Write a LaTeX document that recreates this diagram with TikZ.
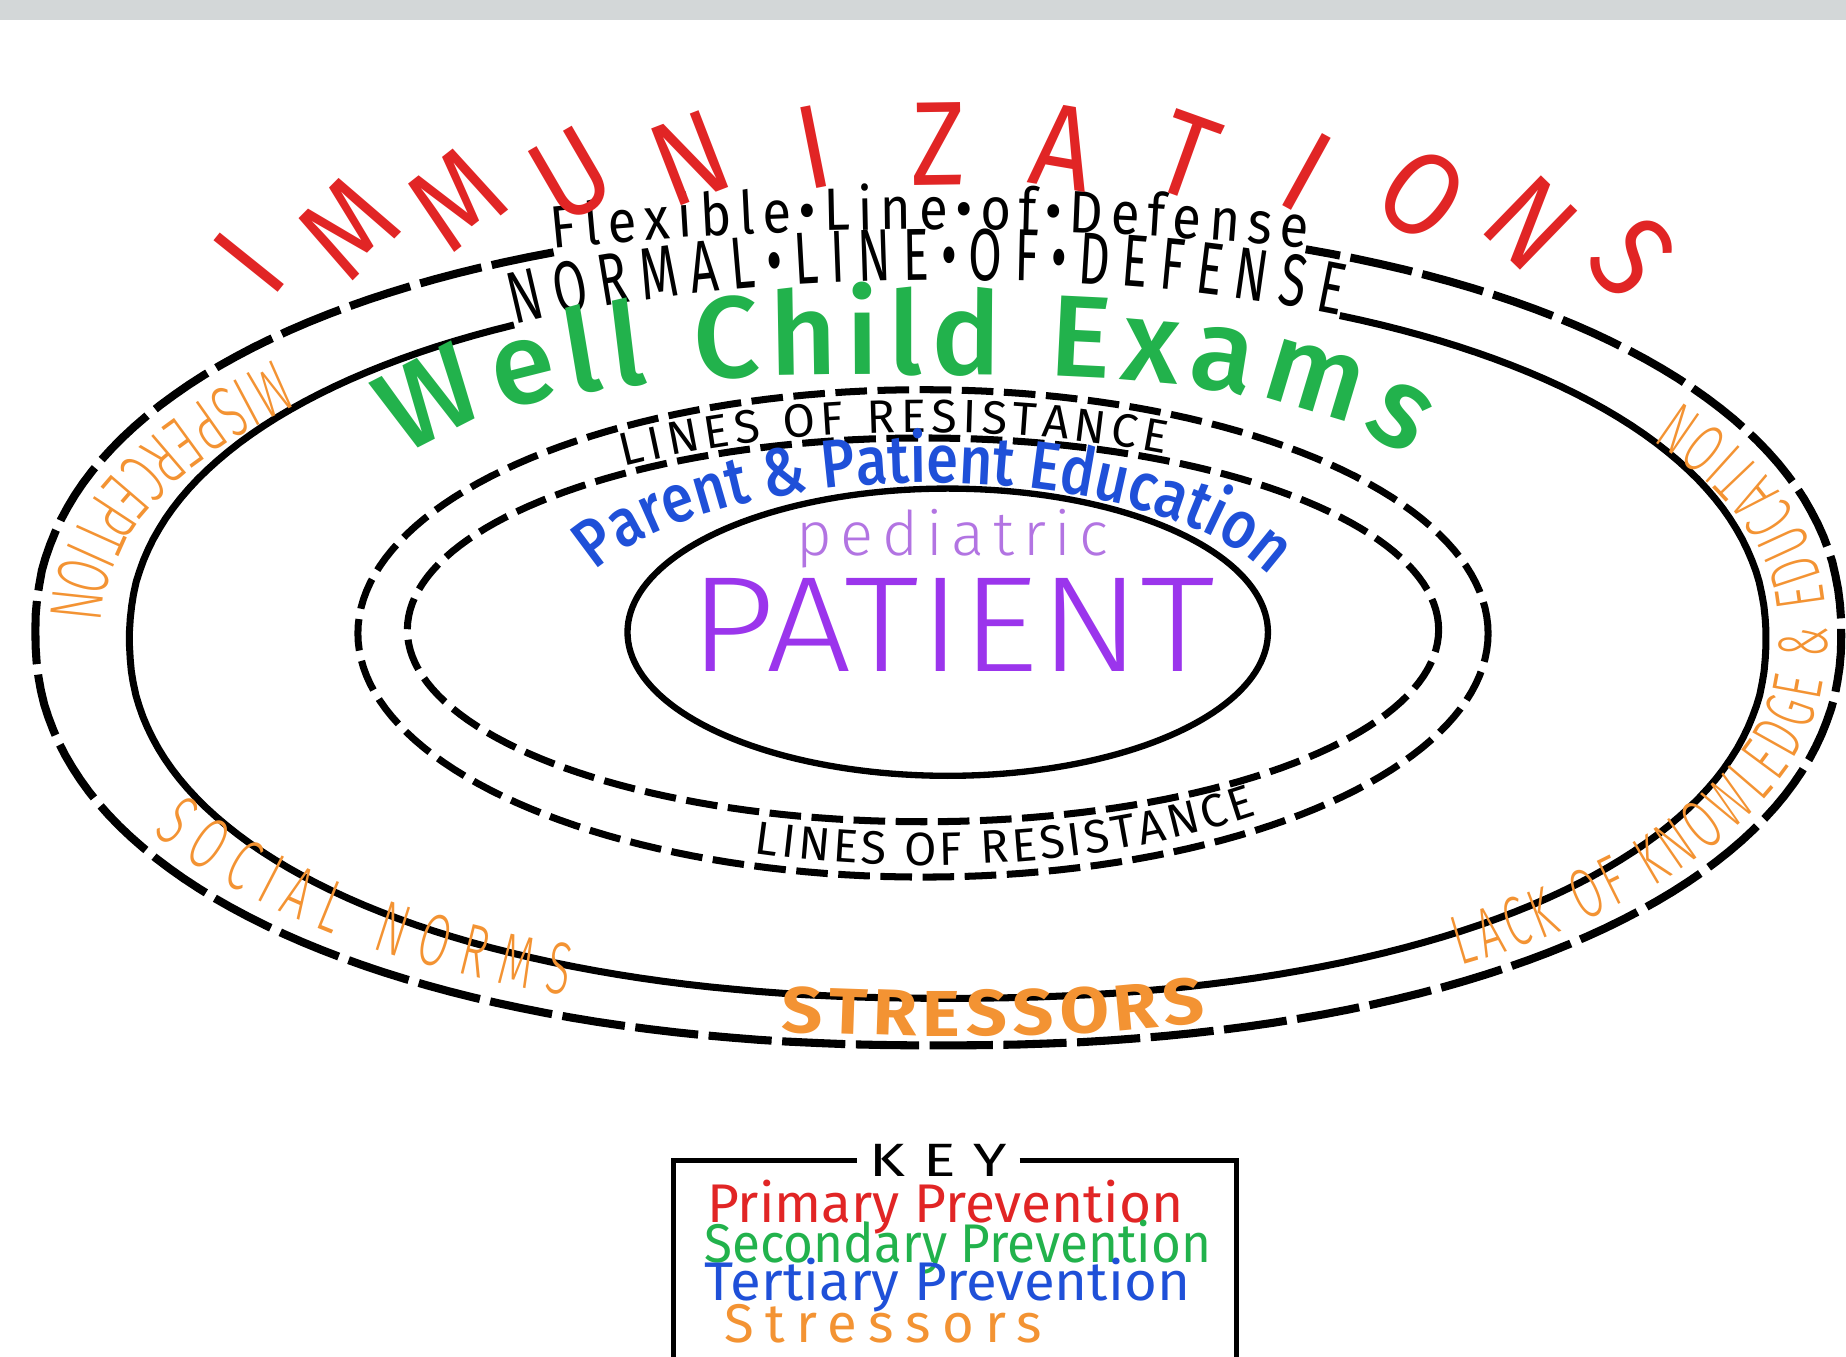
\documentclass[tikz,border=0pt]{standalone}
\usepackage{fontspec}
\usetikzlibrary{decorations.text}
\newfontfamily\hand{Fira Sans}
\newfontfamily\handcond{Fira Sans}[FakeStretch=0.88]
\newfontfamily\handnarrow{Fira Sans}[FakeStretch=0.66]
\newfontfamily\handwide{Fira Sans}[FakeStretch=1.1]
\newfontfamily\handmed{Fira Sans Medium}
\newfontfamily\handmedcond{Fira Sans Medium}[FakeStretch=0.85]
\newfontfamily\handlight{Fira Sans Light}
\newfontfamily\handlightcond{Fira Sans Light}[FakeStretch=0.6]
\definecolor{immred}{HTML}{E12525}
\definecolor{examgreen}{HTML}{22B24C}
\definecolor{edublue}{HTML}{1F50D8}
\definecolor{patpurple}{HTML}{9B35EC}
\definecolor{pedpurple}{HTML}{B274E2}
\definecolor{stressorange}{HTML}{F39333}
\definecolor{topbar}{HTML}{D3D7D8}
% rounded ellipse: cx, cy, a, b, exponent, from, to
\pgfmathdeclarefunction{spow}{2}{\pgfmathparse{ifthenelse(#1<0,-1,1)*(abs(#1)+0.000001)^#2}}
\newcommand\ring[7]{plot[domain=#6:#7,samples=181] ({#1+#3*spow(cos(\x),#5)},{-#2+#4*spow(sin(\x),#5)})}
\begin{document}
\begin{tikzpicture}[x=0.011773cm,y=0.011773cm,
	flexline/.style={line width=2.3pt,dash pattern=on 18pt off 3pt},
	normalline/.style={line width=2pt},
	resline/.style={line width=2pt,dash pattern=on 9pt off 3pt},
	patientline/.style={line width=1.8pt},
	ringtext/.style 2 args={decorate,decoration={text along path,text align={fit to path},text={|#1|#2}}},
	immletter/.style={inner sep=0pt,text=immred,font=\handcond\fontsize{34}{38}\selectfont},
	keyline/.style={line width=1.5pt},
	keyentry/.style={anchor=base west,inner sep=0pt,font=\hand\fontsize{15.5}{18}\selectfont}]
	\useasboundingbox (0,0) rectangle (1568,-1152);
	\fill[topbar] (0,0) rectangle (1568,-17);
	%Flexible line of defense
		\draw[flexline] \ring{797}{538}{767}{350}{0.92}{113.3}{427.9};
		\path[ringtext={\handcond\fontsize{17}{20}\selectfont}{Flexible•Line•of•Defense}] \ring{790}{895}{1504}{700}{1}{102.3}{77.7};
	%Normal line of defense
		\draw[normalline] \ring{805}{543}{695}{305}{0.92}{120.1}{423.3};
		\path[ringtext={\handnarrow\fontsize{21}{25}\selectfont}{NORMAL•LINE•OF•DEFENSE}] \ring{805}{543}{695}{305}{0.92}{120.1}{63.3};
	%Lines of resistance
		\foreach \ra/\rb/\ry in {480/207/538,438/163/535}
		{
			\draw[resline] \ring{784}{\ry}{\ra}{\rb}{1}{0}{360} -- cycle;
		}
		\path[ringtext={\hand\fontsize{13.3}{16}\selectfont}{LINES OF RESISTANCE}] \ring{784}{537}{452}{170}{1}{124.2}{62.9};
		\path[ringtext={\hand\fontsize{13.3}{16}\selectfont}{LINES OF RESISTANCE}] \ring{784}{537}{455}{198}{1}{251.6}{308.6};
	%Patient
		\draw[patientline] \ring{805}{537}{272}{122}{1}{0}{360} -- cycle;
		\node[anchor=base,inner sep=0pt,text=pedpurple,font=\handlight\fontsize{17.5}{20}\selectfont\addfontfeature{LetterSpace=14}] (pediatric) at (809,-472) {pediatric};
		\node[anchor=base,inner sep=0pt,xscale=1.11,text=patpurple,font=\handlight\fontsize{38.7}{44}\selectfont] (patient) at (809,-570) {PATIENT};
	%Prevention
		\path[ringtext={\handmed\fontsize{33}{37}\selectfont\color{examgreen}}{Well Child Exams}] \ring{770}{505.5}{470}{187.5}{0.7}{150}{30};
		\path[ringtext={\handmedcond\fontsize{19.3}{22}\selectfont\color{edublue}}{Parent {\&} Patient Education}] \ring{790}{537}{312}{127}{1}{156}{24};
		\foreach \ch [count=\i] in {I,M,M,U,N,I,Z,A,T,I,O,N,S}
		{
			\pgfmathsetmacro\ang{130.7-6.7*(\i-1)}
			\pgfmathsetmacro\px{805+910*cos(\ang)}
			\pgfmathsetmacro\py{-540+418*sin(\ang)}
			\pgfmathsetmacro\rot{atan2(\py+700,\px-805)-90}
			\node[immletter,rotate=\rot] (imm\i) at (\px,\py) {\ch};
		}
	%Stressors
		\path[ringtext={\handlightcond\fontsize{21}{24}\selectfont\color{stressorange}}{MISPERCEPTION}] \ring{797}{540}{754}{332}{0.92}{136.8}{178};
		\path[ringtext={\handlightcond\fontsize{21}{24}\selectfont\color{stressorange}}{SOCIAL NORMS}] \ring{797}{540}{752}{330}{0.92}{208.6}{247.1};
		\path[ringtext={\handlightcond\fontsize{20}{24}\selectfont\color{stressorange}}{LACK OF KNOWLEDGE {\&} EDUCATION}] \ring{805}{540}{747}{332}{0.92}{-56.2}{35};
		\path[ringtext={\handwide\bfseries\fontsize{18.5}{22}\selectfont\color{stressorange}}{STRESSORS}] \ring{800}{540}{752}{340}{0.92}{261.1}{285.6};
	%Key
		\node[inner sep=2.5pt,xscale=1.3,font=\hand\fontsize{13.3}{16}\selectfont] (key) at (797,-986) {K\hspace{0.3em}E\hspace{0.3em}Y};
		\coordinate (keyleft) at (572,-1170);
		\coordinate (keyright) at (1050,-1170);
		\draw[keyline] (key.west) -| (keyleft);
		\draw[keyline] (key.east) -| (keyright);
		\node[keyentry,text=immred,xscale=1.01] (primary) at (600,-1038) {Primary Prevention};
		\node[keyentry,text=examgreen,xscale=0.94] (secondary) at (598,-1072) {Secondary Prevention};
		\node[keyentry,text=edublue,xscale=1.035] (tertiary) at (598,-1105) {Tertiary Prevention};
		\node[keyentry,text=stressorange,font=\hand\fontsize{15.5}{18}\selectfont\addfontfeature{LetterSpace=21}] (stressorskey) at (615,-1140) {Stressors};
\end{tikzpicture}
\end{document}
